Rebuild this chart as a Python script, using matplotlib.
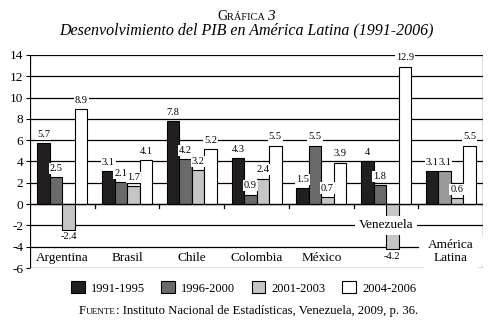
import numpy as np
import matplotlib.pyplot as plt
from matplotlib.patches import Patch

plt.rcParams['font.family'] = ['Liberation Serif', 'DejaVu Serif']
plt.rcParams['axes.unicode_minus'] = False

countries = ["Argentina", "Brasil", "Chile", "Colombia", "México", "Venezuela", "América\nLatina"]
periods = ["1991-1995", "1996-2000", "2001-2003", "2004-2006"]
p1991_1995 = [5.7, 3.1, 7.8, 4.3, 1.5, 4.0, 3.1]
p1996_2000 = [2.5, 2.1, 4.2, 0.9, 5.5, 1.8, 3.1]
p2001_2003 = [-2.4, 1.7, 3.2, 2.4, 0.7, -4.2, 0.6]
p2004_2006 = [8.9, 4.1, 5.2, 5.5, 3.9, 12.9, 5.5]
value_labels = [
    ["5.7", "3.1", "7.8", "4.3", "1.5", "4", "3.1"],
    ["2.5", "2.1", "4.2", "0.9", "5.5", "1.8", "3.1"],
    ["-2.4", "1.7", "3.2", "2.4", "0.7", "-4.2", "0.6"],
    ["8.9", "4.1", "5.2", "5.5", "3.9", "12.9", "5.5"],
]
series = [p1991_1995, p1996_2000, p2001_2003, p2004_2006]
colors = ["#231f20", "#6a6a6a", "#c6c6c6", "#ffffff"]

fig = plt.figure(figsize=(4.92, 3.23), dpi=100)
ax = fig.add_axes([0.061, 0.170, 0.921, 0.660])

n = len(countries)
x = np.arange(n) + 0.5
w = 0.193
bbox = dict(boxstyle="square,pad=0.1", fc="white", ec="none")

# gridlines (behind bars)
for yv in range(-4, 15, 2):
    xmax = 7 if yv != -4 else 6.0
    ax.plot([0, xmax], [yv, yv], color="black", lw=0.9, zorder=1)

for i, (vals, col) in enumerate(zip(series, colors)):
    cols = [col] * n
    if i == 1:
        cols[-1] = "#9a9a9a"
    xs = x + (i - 1.5) * w
    bars = ax.bar(xs, vals, width=w, color=cols, edgecolor="black", lw=0.8, zorder=3)
    for b, v, lab in zip(bars, vals, value_labels[i]):
        bx = b.get_x() + b.get_width() / 2
        if v >= 0:
            ax.annotate(lab, (bx, v), xytext=(0, 3), textcoords="offset points",
                        ha="center", va="bottom", fontsize=7.5, bbox=bbox, zorder=4)
        else:
            ax.annotate(lab, (bx, v), xytext=(0, -2), textcoords="offset points",
                        ha="center", va="top", fontsize=7.5, bbox=bbox, zorder=4)

# frame lines
ax.plot([0, 7], [0, 0], color="black", lw=0.9, zorder=5)
ax.plot([0, 7], [-6, -6], color="black", lw=0.9, zorder=5)
ax.plot([0, 0], [-6, 14], color="black", lw=0.9, zorder=5)
ax.plot([7, 7], [-3.0, 14], color="black", lw=0.9, zorder=2)
ax.plot([7, 7], [-6, -5.7], color="black", lw=0.9, zorder=2)
for k in range(1, 7):
    ax.plot([k, k], [0, -0.35], color="black", lw=0.9, zorder=5)

# category labels
for i, c in enumerate(countries):
    if c == "Venezuela":
        ax.text(x[i], -2.0, c, ha="center", va="center", fontsize=9.5,
                bbox=dict(boxstyle="square,pad=0.25", fc="white", ec="none"), zorder=6)
    elif "\n" in c:
        ax.text(x[i], -4.45, c, ha="center", va="center", fontsize=9.5,
                linespacing=1.05, bbox=dict(boxstyle="square,pad=0.3", fc="white", ec="none"), zorder=6)
    else:
        ax.text(x[i], -5.1, c, ha="center", va="center", fontsize=9.5, zorder=6)

ax.set_xlim(0, 7)
ax.set_ylim(-6, 14)
ax.set_yticks(range(-6, 15, 2))
ax.set_xticks([])
ax.tick_params(axis="y", length=3, width=0.8, labelsize=9.5, pad=2)
for s in ax.spines.values():
    s.set_visible(False)


def chain(parts, y, x0=None, xc=None):
    # lay out pieces of text side by side (used for small caps)
    renderer = fig.canvas.get_renderer()
    texts = []
    widths = []
    for s, size, kw in parts:
        t = fig.text(0, y, s, fontsize=size, va="baseline", **kw)
        widths.append(t.get_window_extent(renderer).width / fig.bbox.width)
        texts.append(t)
    total = sum(widths)
    xpos = x0 if x0 is not None else xc - total / 2
    for t, wd in zip(texts, widths):
        t.set_x(xpos)
        xpos += wd


chain([("G", 10, {}), ("RÁFICA ", 7.5, {}), ("3", 11, {"style": "italic"})], 0.938, xc=0.5)
fig.text(0.5, 0.905, "Desenvolvimiento del PIB en América Latina (1991-2006)",
         fontsize=11.5, style="italic", ha="center", va="center")

handles = [Patch(facecolor=c, edgecolor="black", lw=0.8) for c in colors]
fig.legend(handles, periods, loc="center", bbox_to_anchor=(0.495, 0.108), ncol=4,
           frameon=False, fontsize=9, handlelength=1.1, handleheight=1.1,
           handletextpad=0.5, columnspacing=1.3)

chain([("F", 9.2, {}), ("UENTE", 6.6, {}), (": Instituto Nacional de Estadísticas, Venezuela, 2009, p. 36.", 9.2, {})],
      0.027, xc=0.505)

fig.savefig("out.png", dpi=100)
